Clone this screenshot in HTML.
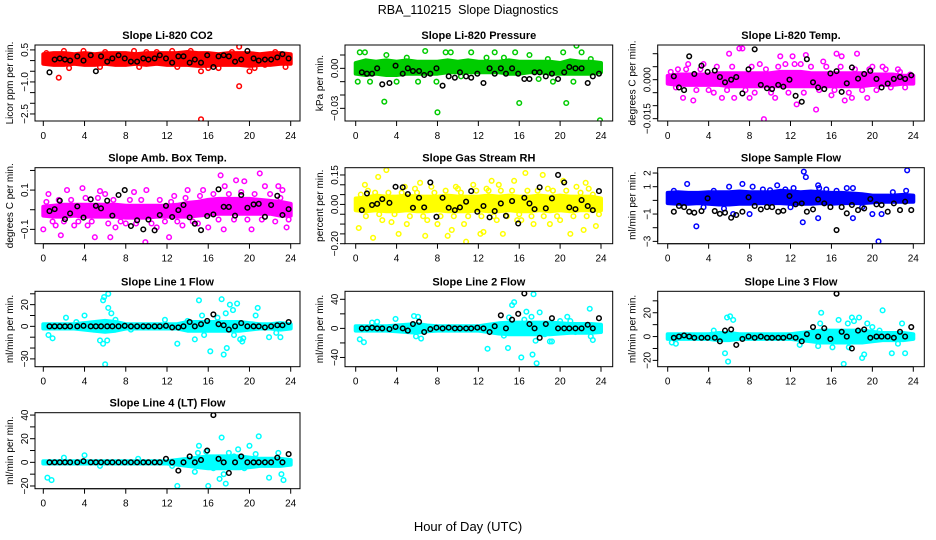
<!DOCTYPE html>
<html><head><meta charset="utf-8"><style>
html,body{margin:0;padding:0;background:#fff;}
svg{display:block;font-family:"Liberation Sans",sans-serif;}
</style></head><body>
<svg id="chart" width="936" height="540" viewBox="0 0 936 540">
<rect x="0" y="0" width="936" height="540" fill="#fff"/>
<text x="468" y="14" text-anchor="middle" font-size="12.5">RBA_110215&#160; Slope Diagnostics</text>
<text x="468" y="531" text-anchor="middle" font-size="13">Hour of Day (UTC)</text>
</svg>
<script>
// shared times
const hours = [0,1,2,3,4,5,6,7,8,9,10,11,12,13,14,15,16,17,18,19,20,21,22,23,24];
const blackTimes = [0.6,1.1,1.6,2.1,2.6,3.3,3.9,4.6,5.1,5.6,6.2,6.7,7.3,7.9,8.5,9.1,9.7,10.2,10.8,11.3,11.9,12.5,13.1,13.6,14.2,14.7,15.3,15.9,16.5,17.0,17.5,18.0,18.6,19.2,19.8,20.4,20.9,21.5,22.1,22.7,23.2,23.8];
const xTicks = [0,4,8,12,16,20,24];

// Panel 1: CO2
const co2Lo = [-0.15,-0.2,-0.2,-0.15,-0.2,-0.2,-0.15,-0.2,-0.2,-0.15,-0.2,-0.15,-0.2,-0.2,-0.2,-0.25,-0.25,-0.2,-0.2,-0.2,-0.25,-0.2,-0.2,-0.15,-0.15];
const co2Hi = [0.3,0.35,0.35,0.3,0.35,0.3,0.35,0.35,0.35,0.3,0.35,0.35,0.35,0.35,0.4,0.35,0.35,0.3,0.35,0.35,0.35,0.3,0.35,0.35,0.3];
const co2Pts = [[1.5,-0.8],[15.3,-2.75],[19.0,-1.2],[19.0,0.65],[2.0,0.45],[14.3,0.45],[12.5,0.45],[15.3,-0.5],[20.0,-0.5],[16.0,-0.35],[3.9,0.45],[8.8,0.45],[10.0,0.4],[18.3,0.4],[22.5,0.4],[0.3,0.35],[6.0,0.4],[11.0,0.4],[2.5,-0.35],[5.5,-0.3],[9.3,-0.3],[13.0,-0.3],[17.0,-0.35],[20.5,-0.35],[23.5,-0.3],[21.5,-0.2]];
const co2Black = [-0.55,0.05,0.1,0.05,0.0,0.2,0.0,0.25,-0.5,0.2,-0.05,0.1,0.25,0.1,-0.05,-0.05,0.1,0.05,0.1,0.25,0.1,-0.1,0.2,0.2,-0.1,0.05,-0.1,0.25,-0.3,0.2,0.25,0.2,-0.05,0.05,0.45,0.1,0.0,0.05,0.05,0.15,0.3,0.1];

// Panel 2: Pressure
const presLo = [-0.004,-0.005,-0.004,-0.005,-0.005,-0.004,-0.004,-0.004,-0.004,-0.003,-0.003,-0.003,-0.003,-0.003,-0.003,-0.004,-0.004,-0.003,-0.003,-0.004,-0.004,-0.004,-0.004,-0.004,-0.003];
const presHi = [0.004,0.006,0.005,0.006,0.005,0.006,0.005,0.005,0.005,0.006,0.005,0.006,0.005,0.005,0.005,0.006,0.005,0.005,0.005,0.005,0.004,0.006,0.005,0.005,0.004];
const presPts = [[0.4,0.012],[0.9,0.012],[2.8,-0.025],[3.0,0.01],[6.8,0.013],[7.9,-0.01],[8.0,-0.033],[8.8,0.012],[9.3,0.012],[11.3,0.012],[13.6,0.012],[15.6,0.012],[16.0,-0.026],[17.0,0.01],[20.3,0.012],[20.6,-0.026],[21.6,0.017],[22.1,0.012],[23.9,-0.039],[0.2,-0.01],[1.4,-0.01],[4.0,-0.01],[6.1,-0.01],[10.3,-0.006],[17.9,-0.008],[19.3,-0.01],[21.3,-0.01],[23.0,0.007],[5.0,0.008],[12.8,0.008],[14.5,0.008],[18.8,0.007]];
const presBlack = [-0.003,-0.004,-0.004,0.0,-0.012,-0.011,0.002,-0.004,0.0,-0.002,-0.002,-0.005,-0.004,0.0,-0.013,-0.006,-0.007,-0.003,-0.006,-0.007,-0.004,-0.011,0.0,-0.004,0.0,-0.004,0.0,-0.004,-0.008,-0.008,-0.003,-0.003,-0.006,-0.004,-0.008,-0.003,0.001,0.0,0.0,-0.011,-0.006,-0.004];

// Panel 3: Li-820 Temp
const tempLo = [-0.0015,-0.002,-0.002,-0.002,-0.002,-0.002,-0.0025,-0.0025,-0.0025,-0.0025,-0.0025,-0.0025,-0.0025,-0.0025,-0.0025,-0.0025,-0.0025,-0.0025,-0.0025,-0.0025,-0.002,-0.002,-0.002,-0.0015,-0.0015];
const tempHi = [0.0015,0.002,0.002,0.002,0.002,0.0025,0.0025,0.0025,0.0025,0.0025,0.0025,0.003,0.003,0.003,0.0025,0.0025,0.0025,0.0025,0.0025,0.0025,0.002,0.002,0.002,0.0015,0.0015];
const tempPts = [[1.0,0.004],[1.5,-0.007],[2.5,-0.008],[7.0,0.012],[7.3,0.012],[6.0,0.01],[9.4,-0.0152],[11.0,0.009],[12.2,0.009],[12.6,-0.0095],[14.5,-0.0115],[13.5,0.0095],[15.2,0.007],[16.5,0.01],[17.0,0.009],[17.3,-0.008],[18.5,0.01],[18.0,-0.007],[19.5,-0.007],[20.0,0.005],[21.0,0.005],[4.5,-0.005],[5.3,-0.007],[6.5,-0.007],[8.0,-0.007],[10.5,-0.007],[11.5,0.006],[3.5,0.006],[9.0,0.006],[22.5,0.004],[16.0,-0.006],[13.0,0.006],[2.0,0.006],[8.5,-0.005],
  [0.3,0.003],[0.8,-0.003],[1.8,0.004],[2.8,-0.004],[3.2,0.004],[4.0,-0.004],[4.8,0.005],[5.8,-0.004],[6.3,0.005],[7.6,-0.004],[8.2,0.005],[9.6,0.004],[10.1,-0.005],[10.8,0.005],[11.8,-0.005],[12.4,0.006],[13.3,-0.005],[14.0,0.005],[14.8,-0.004],[15.5,0.005],[16.3,-0.004],[16.9,0.005],[17.7,-0.005],[18.3,0.004],[19.0,-0.004],[19.7,0.004],[20.4,-0.004],[21.3,0.004],[21.8,-0.003],[22.7,0.003],[23.2,-0.003],[23.7,0.002]];
const tempBlack = [0.0013,-0.003,-0.004,0.009,0.0022,0.0054,0.003,0.0035,0.001,-0.001,0.0,0.001,-0.0053,0.004,0.0117,-0.002,-0.0033,-0.0036,-0.002,-0.0027,0.0,-0.0062,-0.0085,0.0079,-0.001,-0.003,-0.0036,0.0024,0.0033,-0.0047,-0.0014,0.0047,0.0004,0.0022,0.0034,0.0003,-0.003,-0.0015,0.0003,0.001,0.0003,0.0017];

// Panel 4: Amb Box Temp
const ambLo = [-0.03,-0.035,-0.035,-0.03,-0.035,-0.035,-0.035,-0.035,-0.04,-0.04,-0.04,-0.035,-0.035,-0.035,-0.035,-0.03,-0.025,-0.02,-0.02,-0.02,-0.02,-0.02,-0.02,-0.03,-0.03];
const ambHi = [0.015,0.02,0.025,0.025,0.025,0.025,0.025,0.025,0.02,0.02,0.02,0.02,0.02,0.025,0.035,0.04,0.05,0.055,0.055,0.055,0.055,0.05,0.045,0.04,0.03];
const ambPts = [[0.0,-0.1],[1.7,-0.13],[5.0,-0.14],[6.5,-0.14],[12.2,-0.14],[9.9,-0.165],[17.2,0.175],[21.0,0.185],[18.7,0.15],[19.5,0.145],[0.5,0.08],[2.3,0.1],[3.8,0.11],[5.5,0.095],[8.8,0.09],[10.0,0.1],[14.0,0.1],[15.5,0.1],[17.6,0.12],[21.5,0.12],[22.8,0.12],[23.2,0.1],[1.2,-0.08],[3.0,-0.08],[4.3,-0.08],[7.0,-0.09],[11.0,-0.09],[13.5,-0.08],[16.0,-0.09],[17.5,-0.1],[20.2,-0.1],[23.6,-0.09],[15.0,-0.07],[8.0,-0.07],[12.7,0.07],[6.0,0.08],
  [0.3,0.04],[0.9,-0.06],[1.5,0.05],[2.0,-0.06],[2.7,0.05],[3.4,-0.06],[4.1,0.06],[4.7,-0.06],[5.3,0.06],[6.3,-0.07],[6.8,0.05],[7.5,-0.06],[8.4,0.05],[9.0,-0.07],[9.5,0.05],[10.5,-0.07],[11.3,0.05],[11.8,-0.06],[12.4,0.04],[13.0,-0.06],[13.8,0.06],[14.5,-0.06],[15.2,0.07],[16.5,0.08],[17.0,-0.05],[18.0,0.08],[18.5,-0.05],[19.2,0.09],[19.8,-0.05],[20.5,0.08],[21.2,-0.05],[22.0,0.08],[22.5,-0.06],[23.0,0.06],[23.8,-0.05]];
const ambBlack = [-0.007,0.003,0.046,-0.048,-0.019,0.017,-0.04,0.053,0.02,0.007,0.046,-0.03,0.075,0.1,-0.083,-0.054,-0.1,-0.05,-0.105,-0.027,0.02,-0.037,-0.002,0.024,-0.039,-0.071,-0.104,-0.032,-0.024,0.104,0.015,0.014,-0.03,0.075,0.01,0.027,0.03,-0.036,0.024,0.071,-0.027,0.003];

// Panel 5: Gas Stream RH
const rhLo = [-0.03,-0.035,-0.03,-0.035,-0.035,-0.03,-0.035,-0.035,-0.03,-0.035,-0.035,-0.035,-0.03,-0.035,-0.035,-0.03,-0.035,-0.035,-0.03,-0.035,-0.03,-0.035,-0.03,-0.03,-0.03];
const rhHi = [0.03,0.035,0.045,0.04,0.04,0.045,0.04,0.04,0.04,0.045,0.04,0.04,0.04,0.045,0.04,0.045,0.04,0.04,0.045,0.04,0.045,0.04,0.04,0.04,0.03];
const rhPts = [[0.3,-0.12],[1.7,-0.17],[2.2,0.14],[3.0,0.175],[4.2,-0.15],[5.0,-0.1],[6.8,-0.16],[7.4,0.09],[9.0,-0.16],[9.4,-0.13],[10.8,-0.19],[10.6,-0.1],[12.2,-0.15],[12.5,-0.14],[14.4,-0.15],[13.3,0.12],[15.5,0.12],[16.6,0.16],[18.3,0.15],[20.3,0.12],[21.0,-0.15],[22.3,-0.13],[22.5,0.11],[0.9,0.1],[4.8,0.09],[6.3,0.11],[8.0,-0.1],[11.5,0.1],[14.0,0.1],[17.4,-0.1],[19.0,-0.1],[23.5,-0.11],[2.6,-0.08],[5.8,0.08],[9.8,0.09],[12.8,0.08],[15.8,-0.08],[18.8,0.08],[21.6,0.09],[1.2,0.07],[3.5,-0.09],[7.0,-0.08],[10.0,0.08],[13.8,-0.08],[16.2,-0.08],[20.0,-0.08],[22.8,0.08],
  [0.5,0.05],[1.0,-0.06],[1.9,0.06],[2.3,-0.05],[3.2,0.06],[3.8,-0.05],[4.5,0.06],[5.3,-0.06],[6.0,0.06],[6.6,-0.06],[7.7,0.06],[8.3,-0.06],[8.8,0.07],[9.6,-0.06],[10.3,0.06],[11.0,-0.06],[11.8,0.07],[12.3,-0.06],[13.0,0.07],[13.5,-0.06],[14.2,0.07],[14.8,-0.06],[15.3,0.07],[16.0,-0.05],[16.8,0.07],[17.2,-0.06],[17.8,0.07],[18.4,-0.06],[19.3,0.07],[19.7,-0.06],[20.6,0.07],[21.3,-0.06],[22.0,0.06],[22.6,-0.06],[23.2,0.05],[23.8,-0.05]];
const rhBlack = [-0.029,0.056,-0.003,0.003,0.027,0.008,0.09,0.087,0.053,-0.017,0.034,-0.015,0.112,-0.063,0.034,-0.017,-0.029,-0.015,0.014,0.068,-0.037,-0.008,-0.066,-0.034,0.005,-0.058,0.017,-0.097,0.034,0.005,-0.024,0.087,-0.02,0.031,0.15,0.112,-0.015,-0.024,0.022,-0.008,-0.029,0.068];

// Panel 6: Sample Flow
const sfLo = [-0.2,-0.25,-0.25,-0.2,-0.25,-0.3,-0.3,-0.25,-0.25,-0.2,-0.2,-0.2,-0.25,-0.25,-0.25,-0.2,-0.25,-0.2,-0.2,-0.2,-0.15,-0.1,-0.1,-0.1,-0.1];
const sfHi = [0.55,0.6,0.55,0.55,0.6,0.6,0.6,0.65,0.6,0.6,0.6,0.7,0.65,0.6,0.65,0.6,0.55,0.55,0.5,0.45,0.35,0.35,0.35,0.4,0.35];
const sfPts = [[1.9,1.2],[2.8,-1.9],[6.0,1.0],[7.3,1.2],[8.3,1.0],[8.0,-1.0],[10.7,1.1],[12.3,0.9],[13.3,2.1],[13.5,1.7],[13.2,-1.6],[14.7,1.1],[14.8,0.9],[14.7,-1.3],[17.5,0.9],[18.1,0.9],[18.1,-1.3],[20.0,-1.0],[20.6,-3.0],[20.9,-1.0],[23.4,2.2],[23.3,0.7],[6.4,-1.0],[3.5,-0.5],[10.0,0.75],[15.5,0.8],[19.0,-0.5],[0.6,0.7],[4.5,0.7],[22.0,0.6],[9.3,0.8],[11.5,0.8],[16.5,0.7],[5.5,-0.6],[12.0,-0.5]];
const sfBlack = [-0.83,-0.41,-0.49,-0.83,-0.9,-0.78,0.15,-0.78,-0.98,-0.9,-1.27,-1.07,-0.83,0.22,-0.41,-0.66,-0.49,-0.49,-0.83,-0.76,0.32,-0.29,-0.22,-0.83,-0.66,0.07,-0.22,-0.49,-2.17,-0.49,-0.95,-0.34,-0.71,-0.59,0.1,-0.29,-0.34,-0.83,-0.22,-0.71,-0.1,-0.71];

// Panel 7: Line 1 Flow
const l1Lo = [-2,-2,-2,-2,-3,-4,-5,-4,-2,-2,-2,-2,-2,-2,-4,-4,-4,-4,-4,-4,-3,-2,-2,-3,-2];
const l1Hi = [2,2,2,2,3,4,5,4,2,2,2,2,2,2,4,4,4,4,4,4,3,2,2,3,2];
const l1Pts = [[0.5,-8],[0.9,-11],[5.5,-13],[5.8,24],[5.9,27],[6.3,30],[5.8,-16],[6.0,-35],[6.2,-13],[6.6,12],[6.3,17],[4.0,10],[4.9,-3],[2.2,8],[8.5,-3],[11.8,6],[13.0,-16],[14.7,-12],[15.1,24],[15.4,10],[16.2,-23],[17.3,25],[17.5,-26],[17.8,-20],[17.7,12],[18.1,20],[18.4,15],[18.8,21],[19.1,-12],[19.3,-14],[18.5,-8],[20.8,17],[21.9,-10],[23.0,-10],[22.6,-6],[16.9,8],[19.4,-11],[20.6,10],[15.6,-8],[14.0,5],[7.0,6],[3.2,4]];
const l1Black = [0,0,0,0,0,0,0.5,0,0,0,0,0,0,0.5,0,0,0,0,0,0,0.5,-1,-1,0,4,0,2,5,11,2,1,-3,0,3,0,0,0,-1,0,1,1,4];

// Panel 8: Line 2 Flow
const l2Lo = [-3,-3,-3,-3,-4,-5,-6,-4,-3,-3,-3,-3,-3,-5,-7,-8,-8,-8,-8,-8,-7,-6,-6,-6,-5];
const l2Hi = [3,3,3,3,4,5,6,4,3,3,3,3,3,5,7,8,8,8,8,8,7,6,6,6,5];
const l2Pts = [[0.4,-15],[0.8,-19],[1.6,8],[2.1,9],[3.9,13],[5.7,17],[6.1,16],[6.4,-14],[5.9,-11],[12.9,-28],[14.9,-27],[15.0,15],[15.3,32],[15.5,36],[16.2,-40],[16.7,23],[17.3,-36],[17.4,47],[17.7,-48],[17.6,-17],[18.0,22],[17.2,16],[19.0,-18],[19.2,-18],[20.7,16],[21.0,10],[22.9,27],[23.2,-16],[23.0,-11],[20.0,10],[14.5,-10],[18.5,-8],[16.5,12],[21.5,-5]];
const l2Black = [0,0,1,0,0,-1,2,0,-3,6,9,-5,-1,1,0,1,0,0,0,0,1,0,-5,3,18,0,12,20,48,6,0,-13,6,14,0,0,0,0,0,5,0,14];

// Panel 9: Line 3 Flow
const l3Lo = [-2,-2,-2,-2,-2,-3,-3,-2,-2,-2,-2,-2,-2,-3,-4,-5,-5,-5,-5,-5,-4,-3,-3,-3,-2];
const l3Hi = [2,2,2,2,2,3,3,2,2,2,2,2,2,3,4,5,5,5,5,5,4,3,3,3,2];
const l3Pts = [[0.4,-5],[0.8,-6],[4.5,5],[5.6,-14],[5.8,16],[5.9,-21],[6.1,17],[6.4,14],[12.9,-7],[14.7,-8],[15.0,20],[14.9,11],[16.1,-9],[16.7,14],[17.2,-23],[17.6,11],[17.7,-9],[18.0,16],[18.2,13],[18.7,16],[19.0,-18],[19.2,-15],[19.5,11],[20.7,5],[21.0,22],[21.9,-14],[22.9,11],[23.2,-14],[20.0,8],[22.5,-6]];
const l3Black = [-1,0,1,0,-1,-1,-1,-1,-4,5,6,-7,-2,0,-1,0,-1,-1,-1,-1,0,-1,-4,2,8,0,7,-2,36,4,0,-10,5,6,-1,0,0,0,-1,4,0,8];

// Panel 10: Line 4 (LT) Flow
const l4Lo = [-1,-1,-1,-1,-1,-1,-1,-1,-1,-1,-1,-1,-1,-2,-3,-4,-5,-5,-5,-5,-4,-3,-3,-3,-2];
const l4Hi = [1,1,1,1,1,1,1,1,1,1,1,1,1,2,3,4,5,5,5,5,4,3,3,3,2];
const l4Pts = [[0.4,-13],[0.8,-15],[2.0,4],[4.0,6],[5.5,-3],[9.2,3],[12.5,-3],[13.0,-20],[14.7,-8],[15.0,8],[15.1,14],[15.8,9],[16.0,-20],[16.5,-5],[17.1,-14],[17.3,21],[17.5,-10],[17.7,-18],[18.0,8],[18.5,5],[18.9,11],[19.5,-5],[20.0,14],[20.9,22],[21.9,-13],[22.8,8],[23.1,-10],[23.3,-15],[20.6,7],[16.8,3]];
const l4Black = [0,0,0,0,0,0,1,0,0,0,0,0,0,0,0,0,0,0,0,0,3,0,-7,0,5,0,2,10,40,3,0,-9,0,5,0,0,0,0,0,4,0,7];

const NS = 'http://www.w3.org/2000/svg';
const svg = document.getElementById('chart');
function mk(tag, attrs, parent) {
  const e = document.createElementNS(NS, tag);
  for (const k in attrs) e.setAttribute(k, attrs[k]);
  (parent || svg).appendChild(e);
  return e;
}

const cols = [
  {bl:35, br:300, x0:43.3, x24:290.7},
  {bl:345, br:612.7, x0:355.7, x24:601},
  {bl:657.7, br:924.3, x0:667.7, x24:913.3}
];
const rows = [{bt:45, bb:121},{bt:167.7, bb:243.7},{bt:291.3, bb:366.7},{bt:412.7, bb:488.7}];

const panels = [
  {key:'co2', r:0,c:0,title:'Slope Li-820 CO2',ylab:'Licor ppm per min.',ymin:-2.83,ymax:0.73,color:'#ff0000',ticks:[0.5,0,-0.5,-1,-1.5,-2,-2.5],labs:[[0.5,'0.5'],[-1,'\u22121.0'],[-2.5,'\u22122.5']],lo:co2Lo,hi:co2Hi,pts:co2Pts,blk:co2Black},
  {key:'pressure', r:0,c:1,title:'Slope Li-820 Pressure',ylab:'kPa per min.',ymin:-0.0395,ymax:0.0175,color:'#00cc00',ticks:[0.01,0,-0.01,-0.02,-0.03],labs:[[0,'0.00'],[-0.03,'\u22120.03']],lo:presLo,hi:presHi,pts:presPts,blk:presBlack},
  {key:'li820-temp', r:0,c:2,title:'Slope Li-820 Temp.',ylab:'degrees C per min.',ymin:-0.0159,ymax:0.01335,color:'#ff00ff',ticks:[0.01,0.005,0,-0.005,-0.01,-0.015],labs:[[0,'0.000'],[-0.015,'\u22120.015']],lo:tempLo,hi:tempHi,pts:tempPts,blk:tempBlack},
  {key:'amb-box-temp', r:1,c:0,title:'Slope Amb. Box Temp.',ylab:'degrees C per min.',ymin:-0.173,ymax:0.214,color:'#ff00ff',ticks:[0.2,0.1,0,-0.1],labs:[[0.1,'0.1'],[-0.1,'\u22120.1']],lo:ambLo,hi:ambHi,pts:ambPts,blk:ambBlack},
  {key:'gas-stream-rh', r:1,c:1,title:'Slope Gas Stream RH',ylab:'percent per min.',ymin:-0.2,ymax:0.187,color:'#ffff00',ticks:[0.15,0.1,0.05,0,-0.05,-0.1,-0.15,-0.2],labs:[[0.15,'0.15'],[0,'0.00'],[-0.2,'\u22120.20']],lo:rhLo,hi:rhHi,pts:rhPts,blk:rhBlack},
  {key:'sample-flow', r:1,c:2,title:'Slope Sample Flow',ylab:'ml/min per min.',ymin:-3.17,ymax:2.39,color:'#0000ff',ticks:[2,1,0,-1,-2,-3],labs:[[2,'2'],[1,'1'],[-1,'\u22121'],[-3,'\u22123']],lo:sfLo,hi:sfHi,pts:sfPts,blk:sfBlack},
  {key:'line1-flow', r:2,c:0,title:'Slope Line 1 Flow',ylab:'ml/min per min.',ymin:-37.2,ymax:32.3,color:'#00ffff',ticks:[30,20,10,0,-10,-20,-30],labs:[[20,'20'],[0,'0'],[-30,'\u221230']],lo:l1Lo,hi:l1Hi,pts:l1Pts,blk:l1Black},
  {key:'line2-flow', r:2,c:1,title:'Slope Line 2 Flow',ylab:'ml/min per min.',ymin:-52.7,ymax:51,color:'#00ffff',ticks:[40,20,0,-20,-40],labs:[[40,'40'],[0,'0'],[-40,'\u221240']],lo:l2Lo,hi:l2Hi,pts:l2Pts,blk:l2Black},
  {key:'line3-flow', r:2,c:2,title:'Slope Line 3 Flow',ylab:'ml/min per min.',ymin:-25.3,ymax:38,color:'#00ffff',ticks:[30,20,10,0,-10,-20],labs:[[20,'20'],[0,'0'],[-20,'\u221220']],lo:l3Lo,hi:l3Hi,pts:l3Pts,blk:l3Black},
  {key:'line4-flow', r:3,c:0,title:'Slope Line 4 (LT) Flow',ylab:'ml/min per min.',ymin:-22.3,ymax:42,color:'#00ffff',ticks:[40,30,20,10,0,-10,-20],labs:[[40,'40'],[20,'20'],[0,'0'],[-20,'\u221220']],lo:l4Lo,hi:l4Hi,pts:l4Pts,blk:l4Black}
];

panels.forEach(p => {
  const C = cols[p.c], R = rows[p.r];
  const sx = t => C.x0 + (C.x24 - C.x0) * t / 24;
  const sy = v => R.bb - (v - p.ymin) / (p.ymax - p.ymin) * (R.bb - R.bt);
  const g = mk('g', {});
  
  

  const tt = mk('text', {x:(C.bl+C.br)/2, y:R.bt-6, 'text-anchor':'middle', 'font-size':'11', 'font-weight':'bold'}, g);
  tt.textContent = p.title;
  
  

  const clip = mk('clipPath', {id:'clip-' + p.key}, g);
  mk('rect', {x:C.bl, y:R.bt, width:C.br-C.bl, height:R.bb-R.bt}, clip);
  const plot = mk('g', {'clip-path':'url(#clip-' + p.key + ')'}, g);
  
  

  // dense band
  let d = '';
  hours.forEach((h, i) => { d += (i ? 'L' : 'M') + sx(h).toFixed(1) + ' ' + sy(p.hi[i]).toFixed(1); });
  for (let i = hours.length - 1; i >= 0; i--) d += 'L' + sx(hours[i]).toFixed(1) + ' ' + sy(p.lo[i]).toFixed(1);
  d += 'Z';
  const band = mk('path', {d:d, fill:p.color, stroke:p.color, 'stroke-width':'4', 'stroke-linejoin':'round'}, plot);
  
  

  p.pts.forEach(pt => {
    const c = mk('circle', {cx:sx(pt[0]), cy:sy(pt[1]), r:2.3, fill:'none', stroke:p.color, 'stroke-width':'1.5'}, plot);
    
    
  });
  p.blk.forEach((v, i) => {
    const c = mk('circle', {cx:sx(blackTimes[i]), cy:sy(v), r:2.3, fill:'none', stroke:'#000', 'stroke-width':'1.5'}, plot);
    
    
  });

  const box = mk('rect', {x:C.bl, y:R.bt, width:C.br-C.bl, height:R.bb-R.bt, fill:'none', stroke:'#000', 'stroke-width':'1'}, g);
  
  

  // x axis
  const xa = mk('g', {}, g);
  
  
  mk('line', {x1:sx(0), x2:sx(24), y1:R.bb, y2:R.bb, stroke:'#000'}, xa);
  xTicks.forEach(t => {
    mk('line', {x1:sx(t), x2:sx(t), y1:R.bb, y2:R.bb+5, stroke:'#000'}, xa);
    const tx = mk('text', {x:sx(t), y:R.bb+18, 'text-anchor':'middle', 'font-size':'10'}, xa);
    tx.textContent = t;
    
    
  });

  // y axis
  const ya = mk('g', {}, g);
  
  
  mk('line', {x1:C.bl, x2:C.bl, y1:sy(p.ticks[0]), y2:sy(p.ticks[p.ticks.length-1]), stroke:'#000'}, ya);
  p.ticks.forEach(v => { mk('line', {x1:C.bl-5, x2:C.bl, y1:sy(v), y2:sy(v), stroke:'#000'}, ya); });
  p.labs.forEach(l => {
    const x = C.bl - 7, y = sy(l[0]);
    const tx = mk('text', {x:x, y:y, 'text-anchor':'middle', 'font-size':'10', transform:'rotate(-90 ' + x + ' ' + y + ')'}, ya);
    tx.textContent = l[1];
    
    
  });
  const yx = C.bl - 22, yy = (R.bt + R.bb) / 2;
  const yl = mk('text', {x:yx, y:yy, 'text-anchor':'middle', 'font-size':'10', transform:'rotate(-90 ' + yx + ' ' + yy + ')'}, g);
  yl.textContent = p.ylab;
  
  
});
</script>
</body></html>
